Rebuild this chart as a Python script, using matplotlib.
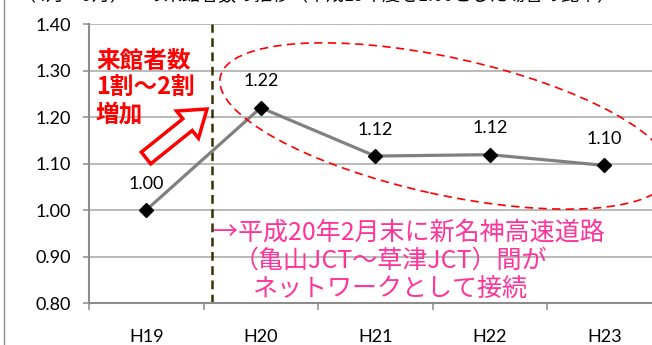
import numpy as np
import matplotlib
matplotlib.use("Agg")
import matplotlib.pyplot as plt
from matplotlib.patches import Ellipse, FancyArrow
from matplotlib.transforms import IdentityTransform
from matplotlib.lines import Line2D

# yearly visitor ratio (H19 = 1.00)
years = ["H19", "H20", "H21", "H22", "H23"]
ratio = [1.00, 1.22, 1.116, 1.119, 1.096]
y_ticks = [0.80, 0.90, 1.00, 1.10, 1.20, 1.30, 1.40]

title_text = "（4月～9月）　の来館者数の推移（平成19年度を1.00とした場合の比率）"
red_lines = ["来館者数", "1割～2割", "増加"]
pink_lines = ["→平成20年2月末に新名神高速道路",
              "（亀山JCT～草津JCT）間が",
              "ネットワークとして接続"]
opening_x = 0.575  # road opening, between H19 and H20

W, H = 652, 345
JP = ["Noto Sans CJK JP", "DejaVu Sans"]
NUM = ["Lato", "DejaVu Sans"]


def fx(x):
    return x / W


def fy(y):
    return 1 - y / H


fig = plt.figure(figsize=(W / 100, H / 100), dpi=100)
fig.patch.set_facecolor("white")
ax = fig.add_axes([fx(89), fy(303), 572.5 / W, (303 - 24) / H])

x = np.arange(len(years))
ax.plot(x, ratio, color="#808080", lw=2.3, zorder=3,
        marker="D", markersize=7.5, markerfacecolor="black",
        markeredgecolor="black", clip_on=False)
for xi, v in zip(x, ratio):
    ax.annotate(f"{v:.2f}", (xi, v), xytext=(0, 19), textcoords="offset points",
                ha="center", va="center", fontsize=13, family=NUM, color="black")

ax.axvline(opening_x, color="#333300", lw=1.8, ls=(0, (3.5, 2.2)), zorder=2)

ax.set_xlim(-0.5, len(years) - 0.5)
ax.set_ylim(0.80, 1.40)
ax.set_yticks(y_ticks)
ax.set_yticklabels([f"{t:.2f}" for t in y_ticks], family=NUM, fontsize=13)
ax.set_xticks(np.arange(-0.5, len(years), 1.0))
ax.set_xticklabels([])
ax.set_xticks(x, minor=True)
ax.set_xticklabels(years, minor=True, family=NUM, fontsize=13)
ax.tick_params(axis="x", which="major", length=5, width=1.1, color="#8c8c8c")
ax.tick_params(axis="x", which="minor", length=0, pad=19)
ax.tick_params(axis="y", length=4.5, width=1.1, color="#8c8c8c", pad=8.5)

ax.grid(axis="y", color="#a6a6a6", lw=1.1)
ax.set_axisbelow(True)
for side in ("top", "right"):
    ax.spines[side].set_visible(False)
for side in ("left", "bottom"):
    ax.spines[side].set_color("#8c8c8c")
    ax.spines[side].set_linewidth(1.5)

# outer frame line and clipped heading
fig.add_artist(Line2D([fx(3.5), fx(3.5)], [0, 1], color="#8c8c8c", lw=1.0))
fig.text(fx(18), fy(1.5), title_text, family=JP, fontsize=13,
         va="baseline", ha="left", color="black")

# dashed oval around H20-H23
fig.add_artist(Ellipse((445, H - 126), 460, 137, angle=-12.4, fill=False,
                       edgecolor="#ff0000", lw=1.2, ls=(0, (5, 3.2)),
                       transform=IdentityTransform(), zorder=5))

# hollow block arrow
fig.add_artist(FancyArrow(146, H - 158, 61, 49, width=15, head_width=35,
                          head_length=25, length_includes_head=True,
                          facecolor="white", edgecolor="#ff0000", lw=2.5,
                          transform=IdentityTransform(), zorder=6))

for line, yc in zip(red_lines, [61, 88, 115]):
    fig.text(fx(96), fy(yc), line, family=JP, fontsize=17, fontweight="bold",
             color="#ff0000", va="center", ha="left", zorder=7)

for line, (xl, yc) in zip(pink_lines, [(213, 233), (234, 261), (252, 289)]):
    fig.text(fx(xl), fy(yc), line, family=JP, fontsize=18,
             color="#ff3399", va="center", ha="left", zorder=7)

fig.savefig("out.png", dpi=100, facecolor="white")
